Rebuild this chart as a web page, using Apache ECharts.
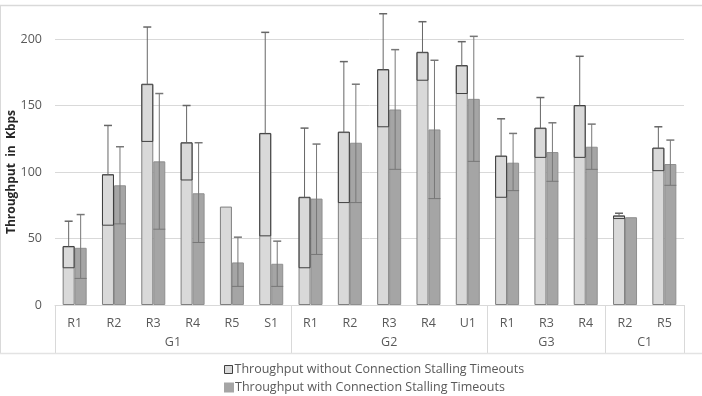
<!DOCTYPE html>
<html><head><meta charset="utf-8">
<script src="https://cdn.jsdelivr.net/npm/echarts@6/dist/echarts.min.js"></script>
<style>html,body{margin:0;padding:0;background:#fff}#c{width:702px;height:396px}</style>
</head><body><div id="c"></div>
<script>
const categories = ['R1','R2','R3','R4','R5','S1','R1','R2','R3','R4','U1','R1','R3','R4','R2','R5'];
const groupNames = ['G1','G2','G3','C1'];
const groupSizes = [6,5,3,2];
const yTicks = [0,50,100,150,200];
const seriesNames = ['Throughput without Connection Stalling Timeouts','Throughput with Connection Stalling Timeouts'];
const lightVal  = [44,98,166,122,74,129,81,130,177,190,180,112,133,150,67,118];
const lightLow  = [28,60,123,94,null,52,28,77,134,169,159,81,111,111,65,101];
const lightHigh = [63,135,209,150,null,205,133,183,219,213,198,140,156,187,69,134];
const darkVal   = [43,90,108,84,32,31,80,122,147,132,155,107,115,119,66,106];
const darkLow   = [20,61,57,47,14,14,38,77,102,80,108,86,93,102,null,90];
const darkHigh  = [68,119,159,122,51,48,121,166,192,184,202,129,137,136,null,124];

const FONT = 'Open Sans';
const chart = echarts.init(document.getElementById('c'), null, {renderer:'canvas'});

function errData(val, low, high){
  const out = [];
  val.forEach((v,i)=>{ if(low[i]!=null && high[i]!=null) out.push([i, v, low[i], high[i]]); });
  return out;
}
const BW = 12;
function renderLight(params, api){
  const i = api.value(0);
  const pv = api.coord([i, api.value(1)]);
  const pl = api.coord([i, api.value(2)]);
  const ph = api.coord([i, api.value(3)]);
  const cx = pv[0] - BW/2;
  return {type:'group', children:[
    {type:'rect', shape:{x:pv[0]-BW+0.5, y:pv[1], width:BW-1, height:pl[1]-pv[1]}, style:{fill:null, stroke:'#3f3f3f', lineWidth:1}},
    {type:'line', shape:{x1:cx, y1:ph[1], x2:cx, y2:pv[1]}, style:{stroke:'#666', lineWidth:1}},
    {type:'line', shape:{x1:cx-4, y1:ph[1], x2:cx+4, y2:ph[1]}, style:{stroke:'#666', lineWidth:1.5}}
  ]};
}
function renderDark(params, api){
  const i = api.value(0);
  const pl = api.coord([i, api.value(2)]);
  const ph = api.coord([i, api.value(3)]);
  const cx = pl[0] + BW/2;
  return {type:'group', children:[
    {type:'line', shape:{x1:cx, y1:ph[1], x2:cx, y2:pl[1]}, style:{stroke:'#777', lineWidth:1}},
    {type:'line', shape:{x1:cx-4, y1:ph[1], x2:cx+4, y2:ph[1]}, style:{stroke:'#777', lineWidth:1.5}},
    {type:'line', shape:{x1:cx-6, y1:pl[1], x2:cx+6, y2:pl[1]}, style:{stroke:'#777', lineWidth:1}}
  ]};
}
const legendText = {color:'#595959', fontSize:12.5, fontFamily:FONT, padding:[0,0,0,-3]};

chart.setOption({
  animation:false,
  textStyle:{fontFamily:FONT},
  grid:{left:55, right:18, top:39, bottom:91, containLabel:false, outerBoundsMode:'none'},
  legend:[
    {data:[{name:seriesNames[0], icon:'rect', itemStyle:{color:'#d9d9d9', borderColor:'#404040', borderWidth:1}}],
     left:219, top:358, itemWidth:8, itemHeight:8, textStyle:legendText},
    {data:[{name:seriesNames[1], icon:'rect', itemStyle:{color:'#a5a5a5', borderColor:'#a5a5a5'}}],
     left:219, top:376, itemWidth:8, itemHeight:8, textStyle:legendText}
  ],
  xAxis:{
    type:'category', data:categories.map((c,i)=>String(i)),
    axisLine:{lineStyle:{color:'#d9d9d9'}},
    axisTick:{show:false},
    axisLabel:{color:'#595959', fontSize:12.5, margin:12, formatter:(v,i)=>categories[i], fontFamily:FONT}
  },
  yAxis:{
    type:'value', min:0, max:200, interval:50,
    name:'Throughput  in  Kbps', nameLocation:'middle', nameGap:37, nameMoveOverlap:false,
    nameTextStyle:{fontWeight:'bold', fontSize:12, color:'#262626', fontFamily:FONT},
    axisLine:{show:false}, axisTick:{show:false},
    axisLabel:{color:'#595959', fontSize:12.5, margin:13, fontFamily:FONT, formatter:v=>yTicks.includes(v)?String(v):''},
    splitLine:{lineStyle:{color:'#d9d9d9'}}
  },
  series:[
    {name:seriesNames[0], type:'bar', data:lightVal, barWidth:BW, barGap:'0%',
     itemStyle:{color:'#d9d9d9', borderColor:'#7f7f7f', borderWidth:1}},
    {name:seriesNames[1], type:'bar', data:darkVal, barWidth:BW,
     itemStyle:{color:'#a5a5a5', borderColor:'#8f8f8f', borderWidth:1}},
    {type:'custom', name:'errL', data:errData(lightVal, lightLow, lightHigh), renderItem:renderLight,
     encode:{x:0, y:[1,2,3]}, clip:false, z:5},
    {type:'custom', name:'errD', data:errData(darkVal, darkLow, darkHigh), renderItem:renderDark,
     encode:{x:0, y:[1,2,3]}, clip:false, z:5}
  ]
});

// multi-level category decorations from the axis scale
const x0 = chart.convertToPixel({xAxisIndex:0}, 0);
const x1 = chart.convertToPixel({xAxisIndex:0}, 1);
const band = x1 - x0;
const yBase = chart.convertToPixel({yAxisIndex:0}, 0);
const edge = k => x0 - band/2 + k*band;
const g = [];
let cum = 0;
const bounds = [0];
groupSizes.forEach(s=>{cum+=s; bounds.push(cum);});
bounds.forEach(k=>{
  const x = Math.round(edge(k))+0.5;
  g.push({type:'line', shape:{x1:x, y1:yBase, x2:x, y2:yBase+48}, style:{stroke:'#d9d9d9', lineWidth:1}});
});
groupNames.forEach((n,j)=>{
  const mid = (edge(bounds[j])+edge(bounds[j+1]))/2;
  g.push({type:'text', x:mid, y:yBase+37, style:{text:n, fill:'#595959', font:'12.5px '+FONT, align:'center', verticalAlign:'middle'}});
});
// outer frame
g.push({type:'line', shape:{x1:0, y1:5.5, x2:702, y2:5.5}, style:{stroke:'#d9d9d9', lineWidth:1.5}});
g.push({type:'line', shape:{x1:0.5, y1:5, x2:0.5, y2:353}, style:{stroke:'#d9d9d9', lineWidth:1}});
g.push({type:'line', shape:{x1:0, y1:Math.round(yBase+48)+0.5, x2:702, y2:Math.round(yBase+48)+0.5}, style:{stroke:'#e3e3e3', lineWidth:1.5}});
chart.setOption({graphic:g});
</script></body></html>
